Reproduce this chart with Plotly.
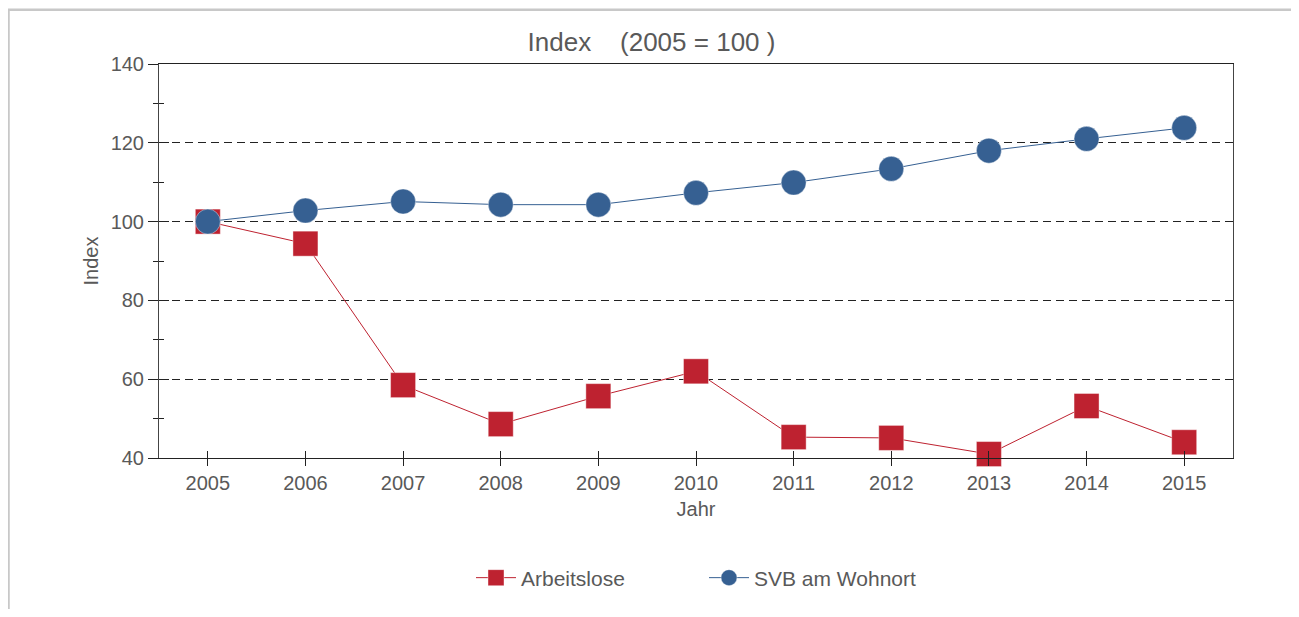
import plotly.graph_objects as go

years = [2005, 2006, 2007, 2008, 2009, 2010, 2011, 2012, 2013, 2014, 2015]
arbeitslose = [100.0, 94.4, 58.5, 48.6, 55.7, 62.0, 45.3, 45.1, 41.0, 53.2, 44.0]
svb_wohnort = [100.0, 102.8, 105.1, 104.3, 104.3, 107.3, 109.9, 113.4, 118.0, 121.0, 123.8]
y_ticks = [40, 60, 80, 100, 120, 140]

RED = "#BE2230"
BLUE = "#366092"
TXT = "#595959"
FONT = "Liberation Sans, Arial, sans-serif"

W, H = 1283, 601
L, T, PW, PH = 151, 56, 1074, 395

fig = go.Figure()
fig.add_trace(go.Scatter(
    x=years, y=arbeitslose, name="Arbeitslose", mode="lines+markers",
    line=dict(color=RED, width=1),
    marker=dict(symbol="square", size=25, color=RED, line=dict(width=1, color="rgba(255,255,255,0.4)")),
    cliponaxis=False,
))
fig.add_trace(go.Scatter(
    x=years, y=svb_wohnort, name="SVB am Wohnort", mode="lines+markers",
    line=dict(color=BLUE, width=1),
    marker=dict(symbol="circle", size=25, color=BLUE, line=dict(width=1, color="rgba(255,255,255,0.4)")),
    cliponaxis=False,
))

# frame around the chart container (left and top edges only, the rest runs off the page)
fx0 = (0.5 - L) / PW
fy_top = (T + PH - 1.5) / PH
fy_bot = -(H - T - PH + 20) / PH
fx_right = (W + 20 - L) / PW
frame_path = f"M {fx0},{fy_bot} L {fx0},{fy_top} L {fx_right},{fy_top}"

fig.update_layout(
    width=W, height=H,
    margin=dict(l=L, r=W - L - PW, t=T, b=H - T - PH),
    paper_bgcolor="white", plot_bgcolor="white",
    font=dict(family=FONT, size=20, color=TXT),
    title=dict(text="Index\u00a0\u00a0\u00a0\u00a0(2005 = 100 )", x=643.5 / W, xref="container", xanchor="center",
               y=1 - 34 / H, yanchor="middle", font=dict(size=26, color=TXT)),
    showlegend=True,
    legend=dict(orientation="h", x=(463 - L) / PW, xanchor="left", y=(T + PH - 570) / PH, yanchor="middle",
                font=dict(size=21, color=TXT), itemwidth=40, entrywidth=178),
    xaxis=dict(
        range=[2004.5, 2015.5], tickmode="array", tickvals=years, ticktext=[str(y) for y in years],
        showline=True, linecolor="#222", linewidth=1, mirror=True,
        ticks="outside", ticklen=7, tickcolor="#222", tickwidth=1,
        showgrid=False, zeroline=False,
        title=dict(text="Jahr", standoff=8, font=dict(size=20, color=TXT)),
        tickfont=dict(size=20, color=TXT),
    ),
    xaxis2=dict(
        range=[2004.5, 2015.5], overlaying="x", tickmode="array", tickvals=years,
        showticklabels=False, ticks="inside", ticklen=7, tickcolor="#222", tickwidth=1,
        showgrid=False, zeroline=False, showline=False,
    ),
    yaxis=dict(
        range=[40, 140], tickmode="array", tickvals=y_ticks,
        showline=True, linecolor="#444", linewidth=1, mirror=True,
        ticks="outside", ticklen=10, tickcolor="#222", tickwidth=1,
        minor=dict(ticks="outside", ticklen=5, dtick=10, tick0=40, tickcolor="#222", showgrid=False),
        showgrid=True, gridcolor="#222", gridwidth=1, griddash="8px,5px",
        zeroline=False,
        title=dict(text="Index", standoff=6, font=dict(size=20, color=TXT)),
        tickfont=dict(size=20, color=TXT),
    ),
    yaxis2=dict(
        range=[40, 140], overlaying="y", tickmode="array", tickvals=y_ticks,
        showticklabels=False, ticks="inside", ticklen=10, tickcolor="#222", tickwidth=1,
        minor=dict(ticks="inside", ticklen=5, dtick=10, tick0=40, tickcolor="#222", showgrid=False),
        showgrid=False, zeroline=False, showline=False,
    ),
    shapes=[dict(type="path", xref="paper", yref="paper", path=frame_path,
                 line=dict(color="#C8C8C8", width=2.5), layer="below")],
)

# invisible trace to activate the secondary (tick-only) axes
fig.add_trace(go.Scatter(x=[years[0]], y=[y_ticks[0]], xaxis="x2", yaxis="y2", mode="markers",
                         marker=dict(opacity=0), showlegend=False, hoverinfo="skip"))

fig.write_html("out.html")
